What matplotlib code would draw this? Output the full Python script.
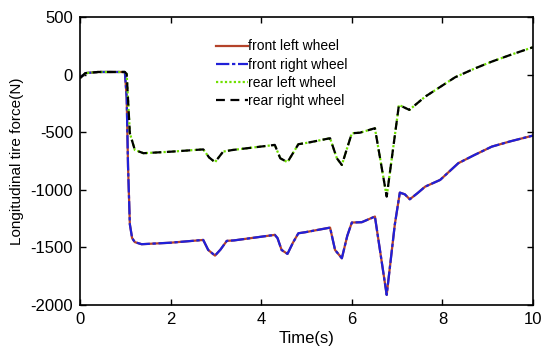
import matplotlib
matplotlib.use('Agg')
import matplotlib.pyplot as plt

# front wheels (left and right overlap)
t_front = [0, 0.12, 0.4, 0.99, 1.03, 1.06, 1.10, 1.15, 1.21, 1.36, 2.0, 2.72, 2.83,
           2.98, 3.1, 3.24, 3.4, 4.3, 4.36, 4.45, 4.58, 4.7, 4.82, 4.97, 5.52, 5.63,
           5.78, 5.9, 6.0, 6.22, 6.51, 6.77, 6.95, 7.06, 7.17, 7.28, 7.45, 7.62,
           7.95, 8.35, 8.7, 9.09, 9.5, 10.0]
f_front = [-30, 12, 22, 22, -200, -800, -1300, -1420, -1455, -1473, -1460, -1436, -1523,
           -1572, -1520, -1444, -1440, -1392, -1420, -1523, -1557, -1460, -1378, -1369, -1329, -1523,
           -1595, -1400, -1285, -1282, -1233, -1913, -1300, -1025, -1040, -1083, -1030, -973,
           -915, -770, -700, -626, -580, -530]

# rear wheels (left and right overlap)
t_rear = [0, 0.12, 0.4, 0.99, 1.03, 1.10, 1.21, 1.40, 2.0, 2.72, 2.85, 2.98, 3.16, 3.37,
          4.30, 4.42, 4.58, 4.82, 5.04, 5.52, 5.67, 5.78, 6.0, 6.18, 6.51, 6.77, 7.04,
          7.27, 7.62, 8.28, 8.7, 9.09, 9.5, 10.0]
f_rear = [-30, 12, 22, 22, 5, -510, -655, -683, -670, -650, -720, -761, -669, -655,
          -611, -727, -761, -605, -591, -553, -727, -785, -510, -505, -466, -1060, -264,
          -307, -192, -24, 50, 112, 170, 237]

plt.rcParams['font.family'] = ['Liberation Sans', 'DejaVu Sans']
plt.rcParams['axes.unicode_minus'] = False

fig = plt.figure(figsize=(5.5, 3.63), dpi=100)
ax = fig.add_axes([0.1455, 0.16, 0.8236, 0.7934])

ax.plot(t_front, f_front, color='#B4432A', linewidth=1.6, label='front left wheel')
ax.plot(t_front, f_front, color='#2020D8', linewidth=1.6, dashes=(6, 1.2, 1.5, 1.2),
        label='front right wheel')
ax.plot(t_rear, f_rear, color='#70E000', linewidth=1.6, dashes=(1, 1),
        label='rear left wheel')
ax.plot(t_rear, f_rear, color='black', linewidth=1.6, dashes=(4, 2.5),
        label='rear right wheel')

ax.set_xlim(0, 10)
ax.set_ylim(-2000, 500)
ax.set_xticks([0, 2, 4, 6, 8, 10])
ax.set_yticks([-2000, -1500, -1000, -500, 0, 500])
ax.tick_params(direction='in', top=True, right=True, labelsize=12, length=4, width=1, pad=5)
for s in ax.spines.values():
    s.set_linewidth(1.2)

ax.set_xlabel('Time(s)', fontsize=12, labelpad=3)
ax.set_ylabel('Longitudinal tire force(N)', fontsize=11, labelpad=5)

ax.legend(loc='upper left', bbox_to_anchor=(0.272, 0.965), frameon=False,
          fontsize=10, handlelength=2.3, handletextpad=0.05, labelspacing=0.3)

fig.savefig('out.png', dpi=100)
